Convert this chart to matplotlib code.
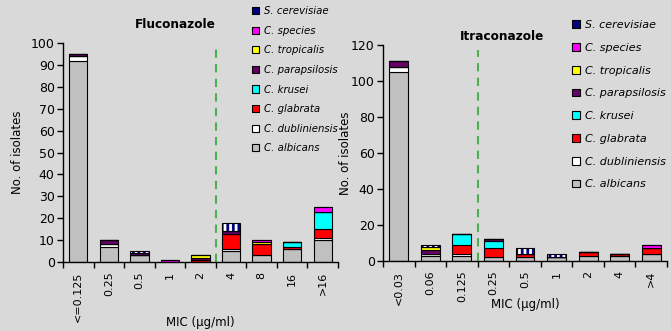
import matplotlib
matplotlib.use("Agg")
import matplotlib.pyplot as plt
from matplotlib.patches import Patch
import numpy as np

species = ["C. albicans", "C. dubliniensis", "C. glabrata", "C. krusei",
           "C. parapsilosis", "C. tropicalis", "C. species", "S. cerevisiae"]
colors = ["#c0c0c0", "#ffffff", "#ff0000", "#00ffff",
          "#660066", "#ffff00", "#ff00ff", "#000080"]

flu_labels = ["<=0.125", "0.25", "0.5", "1", "2", "4", "8", "16", ">16"]
flu_albicans     = [92, 7, 3, 0, 0, 5, 3, 6, 10]
flu_dubliniensis = [2, 1, 0, 0, 0, 1, 0, 0, 1]
flu_glabrata     = [0, 0, 0, 0, 1, 7, 5, 1, 4]
flu_krusei       = [0, 0, 0, 0, 0, 0, 0, 2, 8]
flu_parapsilosis = [1, 2, 1, 0, 1, 1, 0, 0, 0]
flu_tropicalis   = [0, 0, 0, 0, 1, 0, 1, 0, 0]
flu_species      = [0, 0, 0, 1, 0, 0, 1, 0, 2]
flu_cerevisiae   = [0, 0, 1, 0, 0, 4, 0, 0, 0]

itr_labels = ["<0.03", "0.06", "0.125", "0.25", "0.5", "1", "2", "4", ">4"]
itr_albicans     = [105, 3, 3, 2, 2, 2, 3, 3, 4]
itr_dubliniensis = [3, 1, 1, 0, 0, 0, 0, 0, 0]
itr_glabrata     = [0, 0, 5, 5, 2, 0, 2, 1, 3]
itr_krusei       = [0, 0, 6, 4, 0, 0, 0, 0, 0]
itr_parapsilosis = [3, 2, 0, 1, 0, 0, 0, 0, 0]
itr_tropicalis   = [0, 2, 0, 0, 0, 0, 0, 0, 0]
itr_species      = [0, 0, 0, 0, 0, 0, 0, 0, 2]
itr_cerevisiae   = [0, 1, 0, 0, 3, 2, 0, 0, 0]

flu_data = [flu_albicans, flu_dubliniensis, flu_glabrata, flu_krusei,
            flu_parapsilosis, flu_tropicalis, flu_species, flu_cerevisiae]
itr_data = [itr_albicans, itr_dubliniensis, itr_glabrata, itr_krusei,
            itr_parapsilosis, itr_tropicalis, itr_species, itr_cerevisiae]

BG = "#d9d9d9"
plt.rcParams['font.family'] = ['DejaVu Sans']
plt.rcParams['hatch.linewidth'] = 2.0
fig = plt.figure(figsize=(6.71, 3.31), dpi=100, facecolor=BG)


def draw(ax, labels, data, ymax, ystep, cutoff, title, title_pos, xlabel_y,
         ylabel_x, leg_anchor, leg_spacing, leg_size):
    ax.set_facecolor(BG)
    x = np.arange(len(labels))
    bottom = np.zeros(len(labels))
    for vals, col, name in zip(data, colors, species):
        v = np.array(vals, dtype=float)
        if name == "S. cerevisiae":
            ax.bar(x, v, 0.6, bottom=bottom, color=col, edgecolor="white",
                   hatch="|||", linewidth=0, zorder=2)
            ax.bar(x, v, 0.6, bottom=bottom, fill=False, edgecolor="black",
                   linewidth=0.8, zorder=3)
        else:
            ax.bar(x, v, 0.6, bottom=bottom, color=col, edgecolor="black",
                   linewidth=0.8, zorder=2)
        bottom += v
    ax.set_xlim(-0.5, len(labels) - 0.5)
    ax.set_ylim(0, ymax)
    ax.set_yticks(np.arange(0, ymax + 1, ystep))
    ax.set_xticks(x)
    ax.set_xticklabels(labels, rotation=90, fontsize=8)
    ax.set_xticks(np.arange(-0.5, len(labels), 1.0), minor=True)
    ax.tick_params(axis='x', which='major', length=0, pad=7)
    ax.tick_params(axis='x', which='minor', length=4, width=1, direction='out')
    ax.tick_params(axis='y', length=4, width=1, labelsize=9, pad=2)
    for s in ("top", "right"):
        ax.spines[s].set_visible(False)
    for s in ("left", "bottom"):
        ax.spines[s].set_linewidth(1)
    ax.axvline(cutoff, ymin=0, ymax=0.977, color="#4caf50", linestyle=(0, (4, 3)),
               linewidth=1.5, zorder=1)
    ax.set_ylabel("No. of isolates", fontsize=8.5)
    ax.yaxis.set_label_coords(ylabel_x, 0.5)
    ax.text(title_pos[0], title_pos[1], title, transform=ax.transAxes,
            ha="center", va="center", fontsize=8.7, fontweight="bold")
    ax.text(0.5, xlabel_y, "MIC (\u00b5g/ml)", transform=ax.transAxes,
            ha="center", va="center", fontsize=8.5)
    handles = []
    for col, name in zip(colors[::-1], species[::-1]):
        handles.append(Patch(facecolor=col, edgecolor="black", linewidth=0.8))
    ax.legend(handles, species[::-1], loc="upper left",
              bbox_to_anchor=leg_anchor, frameon=False,
              prop={"style": "italic", "size": leg_size},
              handlelength=0.7, handleheight=0.7, handletextpad=0.5,
              labelspacing=leg_spacing, borderaxespad=0, borderpad=0)
    return ax


ax1 = fig.add_axes([63 / 671, 1 - 262 / 331, 275 / 671, 219 / 331])
draw(ax1, flu_labels, flu_data, 100, 10, 4.5, "Fluconazole",
     (0.41, (262 - 25) / 219), -0.275, -0.14,
     ((252 - 63) / 275, (262 - 6) / 219), 0.95, 7.3)

ax2 = fig.add_axes([383 / 671, 1 - 261 / 331, 284 / 671, 216 / 331])
draw(ax2, itr_labels, itr_data, 120, 20, 2.5, "Itraconazole",
     (0.42, (261 - 37) / 216), -0.2, -0.11,
     ((572 - 383) / 284, (261 - 20) / 216), 1.15, 8)

fig.savefig("out.png", dpi=100, facecolor=BG)
